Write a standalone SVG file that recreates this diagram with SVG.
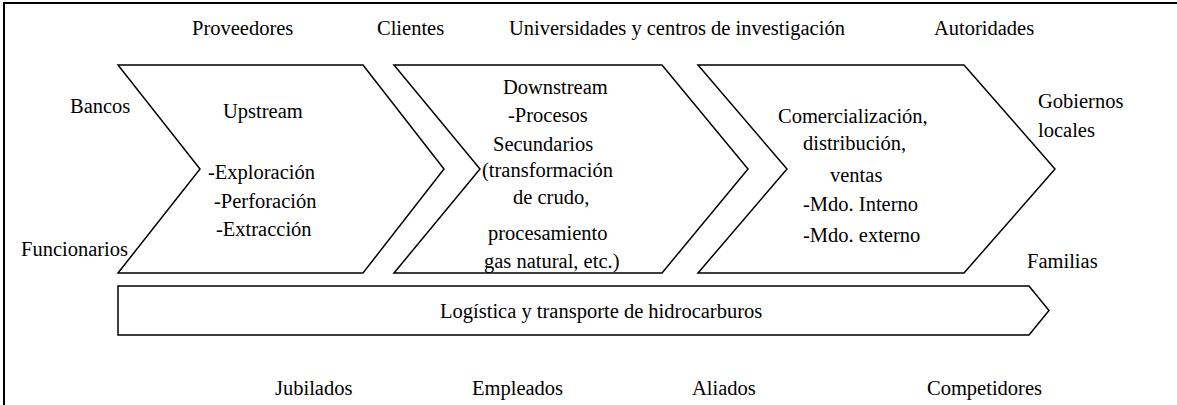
<svg xmlns="http://www.w3.org/2000/svg" width="1177" height="405" viewBox="0 0 1177 405" font-family="'Liberation Serif', 'Times New Roman', Times, serif" font-size="20.5">
<style>
text{font-family:'Liberation Serif','Times New Roman',Times,serif;font-size:20.5px;fill:#000}
.shape{fill:#fff;stroke:#000;stroke-width:1.5;stroke-linejoin:miter}
.frame{fill:none;stroke:#000;stroke-width:2}
</style>
<rect x="0" y="0" width="1177" height="405" fill="#fff"/>
<path class="frame" d="M4,406 V3 H1178"/>
<g id="connectors"></g>
<g id="upstream">
<polygon class="shape" points="118,65 363,65 444,169 363,273 118,273 200,169"/>
<text x="223" y="118">Upstream</text>
<text x="208" y="179">-Exploración</text>
<text x="214" y="208">-Perforación</text>
<text x="216" y="236">-Extracción</text>
</g>
<g id="downstream">
<polygon class="shape" points="394,65 662,65 748,169 662,273 394,273 480,169"/>
<text x="503" y="94">Downstream</text>
<text x="508" y="122">-Procesos</text>
<text x="493" y="151">Secundarios</text>
<text x="482" y="177">(transformación</text>
<text x="513" y="204">de crudo,</text>
<text x="488" y="240">procesamiento</text>
<text x="484" y="268">gas natural, etc.)</text>
</g>
<g id="comercializacion">
<polygon class="shape" points="698,65 964,65 1055,169 964,273 698,273 787,169"/>
<text x="778" y="123">Comercialización,</text>
<text x="803" y="150">distribución,</text>
<text x="830" y="182">ventas</text>
<text x="803" y="211">-Mdo. Interno</text>
<text x="803" y="242">-Mdo. externo</text>
</g>
<g id="logistica">
<polygon class="shape" points="118,286 1029,286 1049,310.5 1029,335 118,335"/>
<text x="440" y="318">Logística y transporte de hidrocarburos</text>
</g>
<g id="proveedores"><text x="192" y="35">Proveedores</text></g>
<g id="clientes"><text x="377" y="35">Clientes</text></g>
<g id="universidades"><text x="509" y="35">Universidades y centros de investigación</text></g>
<g id="autoridades"><text x="934" y="35">Autoridades</text></g>
<g id="bancos"><text x="70" y="113">Bancos</text></g>
<g id="funcionarios"><text x="21" y="256">Funcionarios</text></g>
<g id="gobiernos"><text x="1038" y="108">Gobiernos</text><text x="1038" y="137">locales</text></g>
<g id="familias"><text x="1027" y="268">Familias</text></g>
<g id="jubilados"><text x="275" y="395">Jubilados</text></g>
<g id="empleados"><text x="472" y="395">Empleados</text></g>
<g id="aliados"><text x="692" y="395">Aliados</text></g>
<g id="competidores"><text x="927" y="395">Competidores</text></g>
</svg>
